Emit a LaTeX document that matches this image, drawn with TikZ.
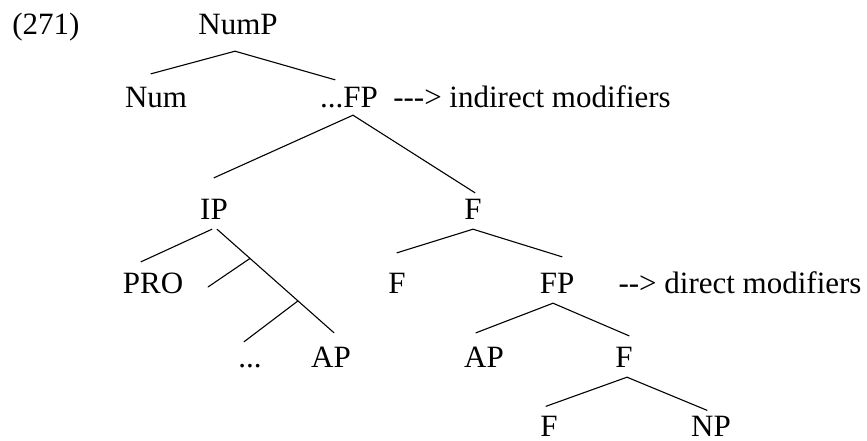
\documentclass[tikz,border=0pt]{standalone}
\usepackage{fontspec}
\setmainfont{Liberation Serif}
\usetikzlibrary{calc}
\begin{document}
\begin{tikzpicture}[x=1pt,y=-1pt,
  tn/.style={inner sep=0pt, anchor=base, text height=31pt, text depth=10pt,
    font=\fontsize{31}{37}\selectfont},
  leaf/.style={tn, text depth=1pt},
  br/.style={line width=1.1pt, line cap=round}]
\useasboundingbox (0,0) rectangle (867,441);
% row 1
\node[tn] (ex) at (46,35) {(271)};
\node[tn] (nump) at (238,35) {NumP};
% row 2
\node[tn] (num) at (156,108) {Num};
\node[tn] (fp1) at (349,108) {...FP};
\node[tn] (ind) at (532,108) {{-}{-}{-}> indirect modifiers};
% row 3
\node[tn] (ip) at (214,219) {IP};
\node[tn] (f1) at (473,219) {F};
% row 4
\node[tn] (pro) at (153,293) {PRO};
\node[tn] (f2) at (397,293) {F};
\node[tn] (fp2) at (557,293) {FP};
\node[tn] (dir) at (740,293) {{-}{-}> direct modifiers};
% row 5
\node[tn] (dots) at (250,367) {...};
\node[tn] (ap1) at (331,367) {AP};
\node[tn] (ap2) at (484,367) {AP};
\node[tn] (f3) at (624,367) {F};
% row 6
\node[leaf] (f4) at (549,436.5) {F};
\node[leaf] (np) at (711,436.5) {NP};
% connectors
\draw[br] ([xshift=-3pt,yshift=-6pt]nump.south) -- ([xshift=-5pt,yshift=3pt]num.north);
\draw[br] ([xshift=-3pt,yshift=-6pt]nump.south) -- ([xshift=-14pt,yshift=-3pt]fp1.north);
\draw[br] ([xshift=4pt,yshift=3pt]fp1.south) -- ([yshift=10pt]ip.north);
\draw[br] ([xshift=4pt,yshift=3pt]fp1.south) -- ([xshift=2pt,yshift=-5pt]f1.north);
\coordinate (ipr) at ([xshift=3pt]ip.south);
\coordinate (apn) at ([xshift=3pt,yshift=3pt]ap1.north);
\coordinate (b1) at ($(ipr)!0.282!(apn)$);
\coordinate (b2) at ($(ipr)!0.692!(apn)$);
\coordinate (b1end) at (208,287);
\draw[br] ([xshift=-2pt]ip.south) -- ([xshift=-12pt]pro.north);
\draw[br] (ipr) -- (apn);
\draw[br] (b1) -- (b1end);
\draw[br] (b2) -- ([xshift=-6pt,yshift=-6pt]dots.north);
\draw[br] (f1.south) -- ([yshift=9pt]f2.north);
\draw[br] (f1.south) -- ([xshift=5pt,yshift=5pt]fp2.north);
\draw[br] ([xshift=-4pt]fp2.south) -- ([xshift=-8pt,yshift=3pt]ap2.north);
\draw[br] ([xshift=-4pt]fp2.south) -- ([xshift=5pt]f3.north);
\draw[br] ([xshift=3pt]f3.south) -- ([xshift=-3pt,yshift=-1pt]f4.north);
\draw[br] ([xshift=3pt]f3.south) -- ([xshift=-4pt,yshift=-5pt]np.north);
\end{tikzpicture}
\end{document}
